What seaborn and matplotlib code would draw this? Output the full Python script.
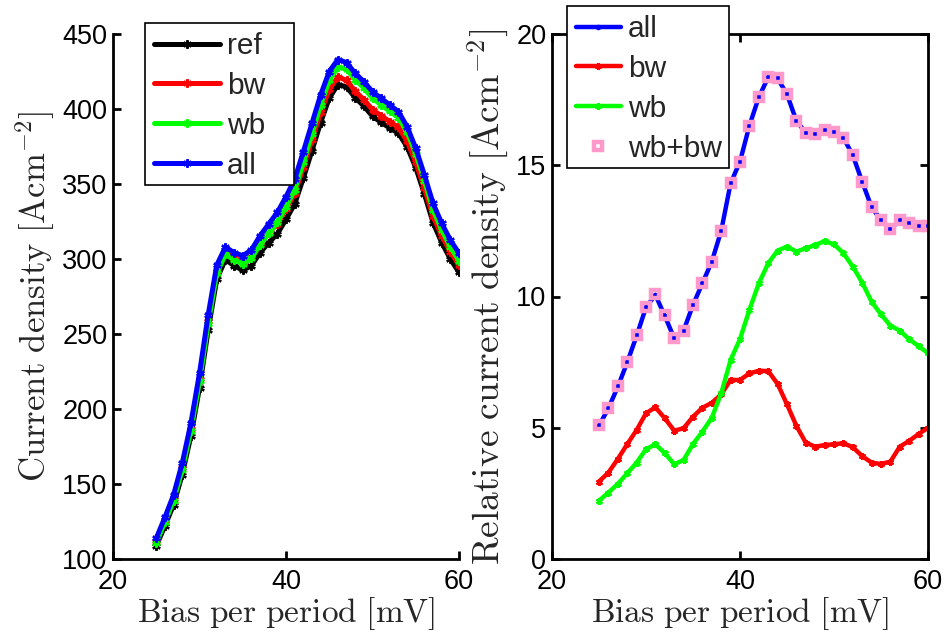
import numpy as np
import pandas as pd
import matplotlib
matplotlib.use("Agg")
import matplotlib.pyplot as plt
from matplotlib.patches import Rectangle
import seaborn as sns

# ---------------- data ----------------
bias = [25, 26, 27, 28, 29, 30, 31, 32, 33, 34, 35, 36, 37, 38, 39, 40, 41, 42,
        43, 44, 45, 46, 47, 48, 49, 50, 51, 52, 53, 54, 55, 56, 57, 58, 59, 60]

ref = [108.7, 122.1, 136.1, 156.3, 181.9, 214.2, 252.6, 286.7, 299.6, 295.5, 292.5, 295.5,
       304.2, 310.8, 316.8, 326.4, 336.6, 353.9, 372.1, 391.0, 407.3, 416.3, 414.7, 407.6,
       401.9, 395.2, 391.1, 387.3, 383.8, 374.8, 360.9, 343.4, 324.2, 311.0, 300.0, 291.1]
bw = [111.7, 125.4, 139.9, 160.7, 186.8, 219.8, 258.4, 292.1, 304.5, 300.5, 297.9, 301.3,
      310.2, 317.1, 323.6, 333.2, 343.7, 361.1, 379.3, 397.7, 413.2, 421.4, 419.1, 411.9,
      406.2, 399.6, 395.5, 391.6, 387.7, 378.5, 364.5, 347.1, 328.5, 315.5, 304.8, 296.1]
wb = [110.9, 124.6, 139.0, 159.6, 185.6, 218.4, 257.0, 290.7, 303.2, 299.3, 296.9, 300.4,
      309.6, 317.1, 324.4, 334.8, 346.1, 364.4, 383.4, 402.8, 419.2, 428.0, 426.5, 419.6,
      414.0, 407.2, 402.8, 398.4, 394.3, 384.6, 370.2, 352.3, 332.9, 319.4, 308.1, 298.9]
all_ = [113.8, 127.8, 142.7, 163.8, 190.4, 223.8, 262.7, 296.0, 308.0, 304.2, 302.2, 306.0,
        315.5, 323.3, 331.1, 341.5, 353.1, 371.5, 390.4, 409.3, 425.0, 433.0, 430.9, 423.8,
        418.2, 411.5, 407.1, 402.7, 398.2, 388.2, 373.8, 356.0, 337.1, 323.8, 312.7, 303.8]

rel_all = [5.08, 5.74, 6.56, 7.49, 8.50, 9.59, 10.06, 9.26, 8.41, 8.70, 9.68, 10.50,
           11.33, 12.50, 14.31, 15.14, 16.51, 17.59, 18.35, 18.31, 17.70, 16.69, 16.24, 16.19,
           16.34, 16.28, 16.05, 15.38, 14.37, 13.40, 12.91, 12.57, 12.91, 12.81, 12.70, 12.70]
rel_bw = [2.95, 3.29, 3.81, 4.37, 4.91, 5.55, 5.78, 5.36, 4.89, 4.98, 5.42, 5.76,
          5.95, 6.27, 6.82, 6.82, 7.07, 7.17, 7.16, 6.67, 5.89, 5.07, 4.43, 4.28,
          4.34, 4.37, 4.41, 4.26, 3.92, 3.67, 3.62, 3.71, 4.28, 4.50, 4.76, 5.00]
rel_wb = [2.22, 2.53, 2.86, 3.26, 3.67, 4.18, 4.37, 4.03, 3.61, 3.77, 4.38, 4.85,
          5.38, 6.31, 7.58, 8.38, 9.49, 10.50, 11.26, 11.75, 11.90, 11.71, 11.84, 11.96,
          12.11, 11.99, 11.65, 11.14, 10.53, 9.80, 9.32, 8.89, 8.70, 8.37, 8.11, 7.84]
rel_wbbw = [5.10, 5.76, 6.60, 7.50, 8.52, 9.60, 10.08, 9.28, 8.41, 8.70, 9.68, 10.50,
            11.33, 12.50, 14.31, 15.14, 16.51, 17.59, 18.35, 18.31, 17.70, 16.69, 16.24, 16.19,
            16.34, 16.28, 16.05, 15.38, 14.37, 13.40, 12.91, 12.57, 12.91, 12.81, 12.70, 12.70]

left_labels = ["ref", "bw", "wb", "all"]
right_labels = ["all", "bw", "wb", "wb+bw"]
x_ticks = [20, 40, 60]
left_yticks = [100, 150, 200, 250, 300, 350, 400, 450]
right_yticks = [0, 5, 10, 15, 20]

# ---------------- style ----------------
sns.set_theme(style="white")
plt.rcParams["font.family"] = ["Liberation Sans", "DejaVu Sans"]
plt.rcParams["mathtext.fontset"] = "cm"

W, H = 948, 634
fig = plt.figure(figsize=(W / 100, H / 100), dpi=100)
axL = fig.add_axes([113 / W, 1 - 559 / H, 346 / W, 525 / H])
axR = fig.add_axes([552 / W, 1 - 559 / H, 376 / W, 525 / H])

ast = (6, 2, 0)
tick_fs = 19.5
label_fs = 24
leg_fs = 21.5

# left panel
left_series = [ref, bw, wb, all_]
left_colors = ["black", "red", "#00ff00", "blue"]
for ys, c, lab in zip(left_series, left_colors, left_labels):
    sns.lineplot(x=bias, y=ys, ax=axL, color=c, lw=3.6, marker=ast, ms=6,
                 mew=1.6, mec=c, label=lab, legend=False)

axL.set_xlim(20, 60)
axL.set_ylim(100, 450)
axL.set_xticks(x_ticks)
axL.set_yticks(left_yticks)
for s in ["top", "right"]:
    axL.spines[s].set_visible(False)
for s in ["left", "bottom"]:
    axL.spines[s].set_color("black")
    axL.spines[s].set_linewidth(2)
axL.tick_params(direction="in", length=6, width=2, labelsize=tick_fs, pad=4,
                colors="black", bottom=True, left=True)
axL.tick_params(axis="x", pad=7)
axL.set_xlabel(r"$\mathrm{Bias\ per\ period\ [mV]}$", fontsize=label_fs, labelpad=0)
axL.set_ylabel(r"$\mathrm{Current\ density\ [Acm^{-2}]}$", fontsize=25, labelpad=4)

# right panel
right_series = [rel_all, rel_bw, rel_wb]
right_colors = ["blue", "red", "#00ff00"]
right_markers = [".", ast, ast]
for ys, c, m, lab in zip(right_series, right_colors, right_markers, right_labels[:3]):
    sns.lineplot(x=bias, y=ys, ax=axR, color=c, lw=3.2, marker=m, ms=5,
                 mew=1.5, mec=c, label=lab, legend=False)
sns.lineplot(x=bias, y=rel_wbbw, ax=axR, color="#ff99cc", lw=0, marker="s", ms=5.5,
             mfc="none", mec="#ff99cc", mew=3.2, label=right_labels[3], legend=False)

axR.set_xlim(20, 60)
axR.set_ylim(0, 20)
axR.set_xticks(x_ticks)
axR.set_yticks(right_yticks)
for s in ["top", "right", "left", "bottom"]:
    axR.spines[s].set_visible(True)
    axR.spines[s].set_color("black")
    axR.spines[s].set_linewidth(2)
axR.tick_params(direction="in", length=6, width=2, labelsize=tick_fs, pad=4,
                colors="black", bottom=True, left=True, top=True, right=True)
axR.tick_params(axis="x", pad=7)
axR.set_xlabel(r"$\mathrm{Bias\ per\ period\ [mV]}$", fontsize=label_fs, labelpad=0)
axR.set_ylabel(r"$\mathrm{Relative\ current\ density\ [Acm^{-2}]}$", fontsize=27,
               labelpad=4)

# legends: box drawn as a figure rectangle (MATLAB-style padding), content as figure legend
def boxed_legend(ax, left, top, right, bottom, hlen):
    rect = Rectangle((left / W, 1 - bottom / H), (right - left) / W, (bottom - top) / H,
                     transform=fig.transFigure, facecolor="white", edgecolor="black",
                     linewidth=1.2, zorder=3)
    fig.patches.append(rect)
    handles, labels = ax.get_legend_handles_labels()
    leg = fig.legend(handles, labels, loc="upper left",
                     bbox_to_anchor=(left / W, 1 - top / H),
                     bbox_transform=fig.transFigure, borderaxespad=0, frameon=False,
                     fontsize=leg_fs, handlelength=hlen, handletextpad=0.25,
                     labelspacing=0.4, borderpad=0.3)
    leg.set_zorder(6)
    return leg

boxed_legend(axL, 145, 23, 294, 185, 2.2)
boxed_legend(axR, 567, 6, 729, 168, 1.5)

fig.savefig("out.png", dpi=100)
